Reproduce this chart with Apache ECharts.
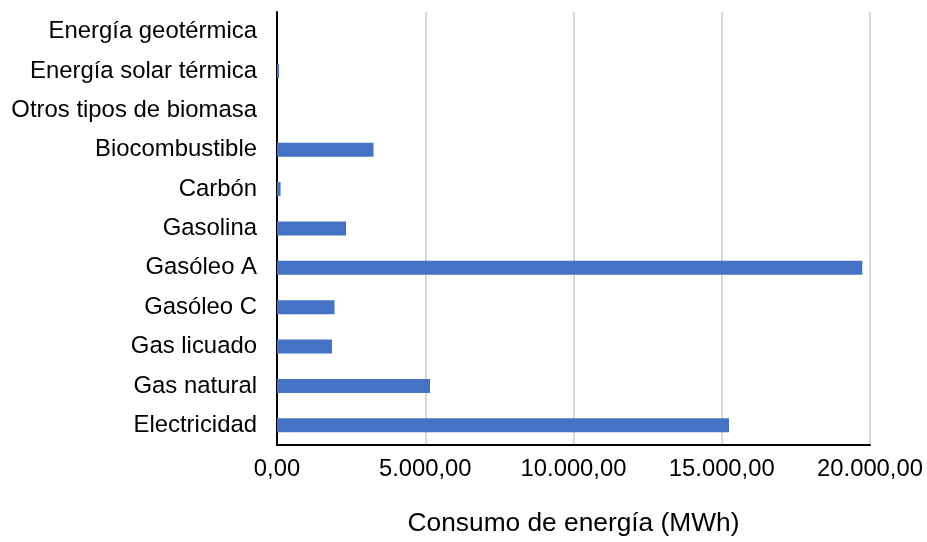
<!DOCTYPE html>
<html>
<head>
<meta charset="utf-8">
<script src="https://cdn.jsdelivr.net/npm/echarts@6/dist/echarts.min.js"></script>
<style>html,body{margin:0;padding:0;background:#fff}#c{width:927px;height:542px}</style>
</head>
<body>
<div id="c"></div>
<script>
var categories = ['Electricidad','Gas natural','Gas licuado','Gasóleo C','Gasóleo A','Gasolina','Carbón','Biocombustible','Otros tipos de biomasa','Energía solar térmica','Energía geotérmica'];
var values = [15245, 5160, 1855, 1940, 19740, 2327, 120, 3255, 0, 70, 0];
var xTicks = [0, 5000, 10000, 15000, 20000];

function fmt(v) {
  var s = Math.round(v).toString().replace(/\B(?=(\d{3})+(?!\d))/g, '.');
  return s + ',00';
}

var chart = echarts.init(document.getElementById('c'));
chart.setOption({
  animation: false,
  grid: {left: 277, right: 57, top: 12, bottom: 95, containLabel: false},
  xAxis: {
    type: 'value', min: xTicks[0], max: xTicks[xTicks.length-1], interval: 5000,
    name: 'Consumo de energía (MWh)', nameLocation: 'middle', nameGap: 66,
    nameTextStyle: {fontFamily: 'Liberation Sans', fontSize: 26.3, color: '#000'},
    axisLine: {show: true, lineStyle: {color: '#000', width: 2}},
    axisTick: {show: false},
    axisLabel: {formatter: fmt, fontFamily: 'Liberation Sans', fontSize: 23.8, color: '#000', margin: 12},
    splitLine: {show: true, lineStyle: {color: '#d9d9d9', width: 2}}
  },
  yAxis: {
    type: 'category', data: categories,
    axisLine: {show: true, lineStyle: {color: '#000', width: 2}},
    axisTick: {show: false},
    axisLabel: {fontFamily: 'Liberation Sans', fontSize: 23.9, color: '#000', margin: 20},
    splitLine: {show: false}
  },
  series: [{
    type: 'bar', data: values, barWidth: 14,
    itemStyle: {color: '#4472c4'}
  }]
});
</script>
</body>
</html>
